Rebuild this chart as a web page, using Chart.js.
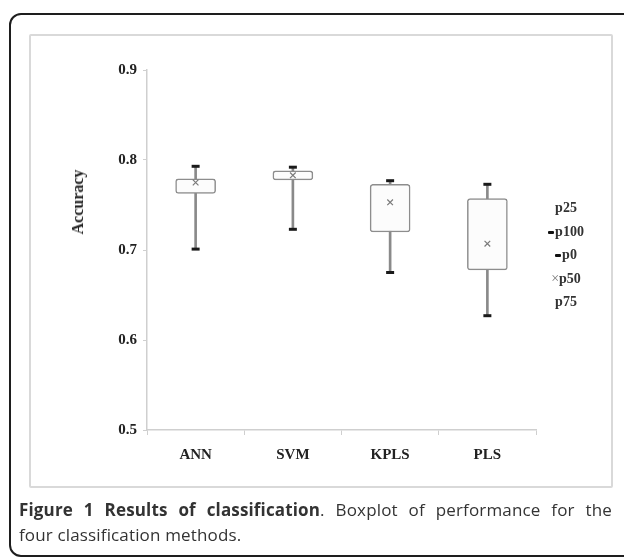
<!DOCTYPE html>
<html>
<head>
<meta charset="utf-8">
<script src="https://cdn.jsdelivr.net/npm/chart.js@4.4.1/dist/chart.umd.min.js"></script>
<style>
  html, body { margin: 0; padding: 0; background: #fff; }
  #page { position: relative; width: 624px; height: 558px; overflow: hidden; }
  .outer { position: absolute; left: 9px; top: 13px; width: 640px; height: 540px;
           border: 2px solid #1e1e1e; border-radius: 12px; }
  .inner { position: absolute; left: 29px; top: 34px; width: 580px; height: 450px;
           border: 2px solid #d9d9d9; border-radius: 2px; }
  #c { position: absolute; left: 0; top: 0; }
  .ytitle { position: absolute; left: 78px; top: 202px; transform: translate(-50%, -50%) rotate(-90deg);
            font: bold 16px "Liberation Serif", serif; color: #222; white-space: nowrap; }
  .legend { position: absolute; left: 526px; top: 196px; width: 80px;
            font: bold 14px "Liberation Serif", serif; color: #333; }
  .legend div { height: 23.6px; line-height: 23.6px; text-align: center; white-space: nowrap; }
  .dash { display: inline-block; width: 6px; height: 3px; background: #111; border-radius: 1px;
          vertical-align: middle; margin-right: 1px; }
  .cross { font-weight: normal; color: #777; }
  .caption { position: absolute; left: 19px; width: 593px; font: 17px "Open Sans", sans-serif;
             letter-spacing: 0.15px; color: #333; line-height: 24px; white-space: nowrap; }
  .l1 { top: 498px; text-align: justify; text-align-last: justify; white-space: normal; }
  .l2 { top: 523px; }
</style>
</head>
<body>
<div id="page">
  <div class="outer"></div>
  <div class="inner"></div>
  <canvas id="c" width="624" height="558"></canvas>
  <div class="ytitle">Accuracy</div>
  <div class="legend">
    <div>p25</div>
    <div><span class="dash"></span>p100</div>
    <div><span class="dash"></span>p0</div>
    <div><span class="cross">×</span>p50</div>
    <div>p75</div>
  </div>
  <div class="caption l1"><b>Figure 1 Results of classification</b>. Boxplot of performance for the</div>
  <div class="caption l2">four classification methods.</div>
</div>
<script>
/* ─── data ─── */
const METHODS = ['ANN', 'SVM', 'KPLS', 'PLS'];
const P0   = [0.701, 0.723, 0.675, 0.627];   // whisker min
const P25  = [0.763, 0.778, 0.720, 0.678];   // box bottom
const P50  = [0.775, 0.783, 0.753, 0.707];   // median (x)
const P75  = [0.779, 0.788, 0.773, 0.757];   // box top
const P100 = [0.793, 0.792, 0.777, 0.773];   // whisker max
const Y_TICKS = [0.5, 0.6, 0.7, 0.8, 0.9];

const SERIF = { family: "'Liberation Serif', 'Times New Roman', serif", weight: 'bold', size: 15 };
const AXIS = '#cfcfcf';

const zip = (a, b) => a.map((v, i) => [v, b[i]]);

new Chart(document.getElementById('c'), {
  type: 'bar',
  data: {
    labels: METHODS,
    datasets: [
      { label: 'box', data: zip(P25, P75), order: 1, grouped: false,
        barThickness: 40, backgroundColor: '#fcfcfc', borderColor: '#8d8d8d',
        borderWidth: 1.5, borderRadius: 3, borderSkipped: false },
      { label: 'whisker', data: zip(P0, P100), order: 2, grouped: false,
        barThickness: 2, backgroundColor: '#8a8a8a', borderWidth: 0 },
      { type: 'line', label: 'p100', data: P100, order: 0, showLine: false,
        pointStyle: 'line', pointRadius: 4, pointBorderWidth: 3, borderColor: '#1a1a1a' },
      { type: 'line', label: 'p0', data: P0, order: 0, showLine: false,
        pointStyle: 'line', pointRadius: 4, pointBorderWidth: 3, borderColor: '#1a1a1a' },
      { type: 'line', label: 'p50', data: P50, order: 0, showLine: false,
        pointStyle: 'crossRot', pointRadius: 4, pointBorderWidth: 1.2, borderColor: '#7a7a7a' },
    ]
  },
  options: {
    responsive: false, animation: false, events: [],
    layout: { padding: { left: 87, right: 88, top: 70, bottom: 88 } },
    plugins: { legend: { display: false }, tooltip: { enabled: false } },
    scales: {
      x: {
        afterFit: s => { s.height = 40; },
        grid: { display: true, drawOnChartArea: false, tickLength: 5, color: AXIS, offset: true },
        border: { color: AXIS, width: 1.5 },
        ticks: { font: SERIF, color: '#222', padding: 11 }
      },
      y: {
        min: 0.5, max: 0.9,
        afterFit: s => { s.width = 60; },
        afterBuildTicks: s => { s.ticks = Y_TICKS.map(v => ({ value: v })); },
        grid: { display: true, drawOnChartArea: false, tickLength: 4, color: AXIS },
        border: { color: AXIS, width: 1.5 },
        ticks: { font: SERIF, color: '#222', padding: 6, callback: v => v.toFixed(1) }
      }
    }
  }
});
</script>
</body>
</html>
